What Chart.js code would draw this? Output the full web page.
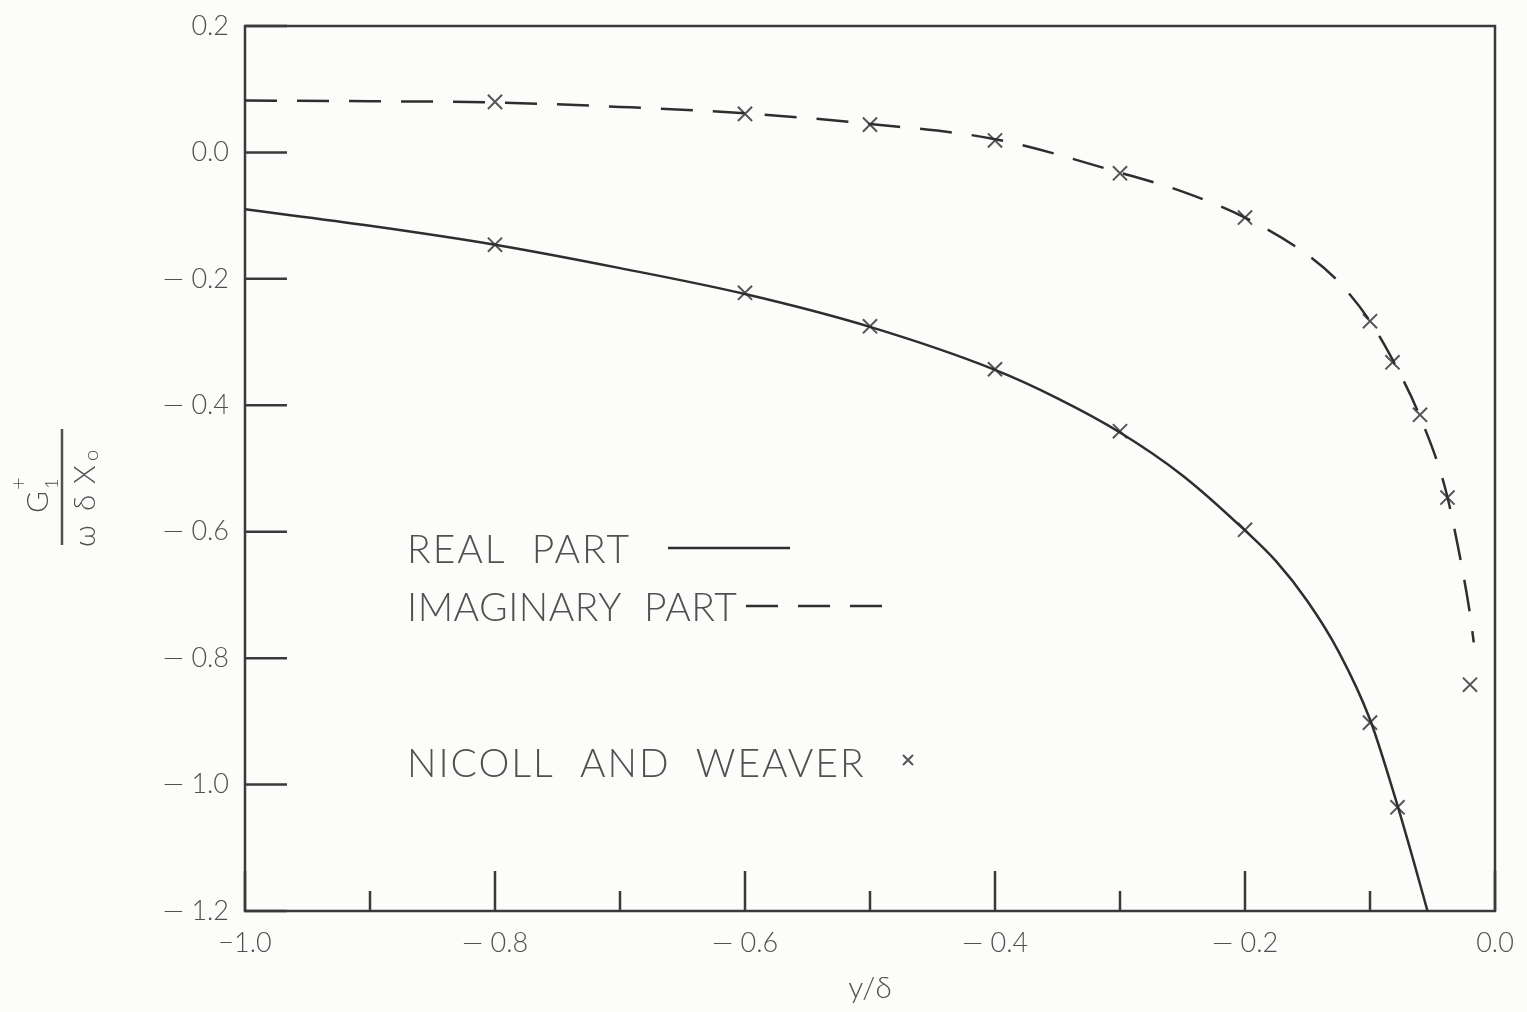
<!DOCTYPE html>
<html>
<head>
<meta charset="utf-8">
<script src="https://cdn.jsdelivr.net/npm/chart.js@4.4.1/dist/chart.umd.min.js"></script>
<style>
    html, body { margin: 0; padding: 0; background: #fcfcfa; }
    #wrap { width: 1527px; height: 1012px; position: relative; }
</style>
</head>
<body>
<div id="wrap"><canvas id="lineChart"></canvas></div>
<script>
// curves (y/delta vs G1+/(w delta X0))
var realX = [-1.0, -0.9, -0.8, -0.7, -0.6, -0.5, -0.4, -0.35, -0.3, -0.25, -0.2, -0.175, -0.15, -0.125, -0.1, -0.08, -0.065, -0.054];
var realY = [-0.090, -0.116, -0.146, -0.183, -0.224, -0.276, -0.344, -0.389, -0.443, -0.511, -0.598, -0.647, -0.710, -0.790, -0.897, -1.020, -1.122, -1.200];

var imagX = [-1.0, -0.9, -0.8, -0.7, -0.6, -0.5, -0.4, -0.3, -0.25, -0.2, -0.15, -0.125, -0.1, -0.08, -0.06, -0.04, -0.03, -0.02, -0.017];
var imagY = [0.082, 0.081, 0.079, 0.072, 0.062, 0.045, 0.021, -0.032, -0.062, -0.103, -0.162, -0.205, -0.267, -0.335, -0.418, -0.530, -0.620, -0.730, -0.775];

// Nicoll and Weaver points
var nwRealX = [-0.8, -0.6, -0.5, -0.4, -0.3, -0.2, -0.1, -0.078];
var nwRealY = [-0.146, -0.222, -0.275, -0.343, -0.441, -0.597, -0.902, -1.036];
var nwImagX = [-0.8, -0.6, -0.5, -0.4, -0.3, -0.2, -0.1, -0.082, -0.06, -0.038, -0.02];
var nwImagY = [0.080, 0.061, 0.044, 0.019, -0.033, -0.103, -0.267, -0.332, -0.415, -0.546, -0.842];

// axis ticks
var yTicks = [0.2, 0.0, -0.2, -0.4, -0.6, -0.8, -1.0, -1.2];
var yTickLabels = ['0.2', '0.0', '\u2014 0.2', '\u2014 0.4', '\u2014 0.6', '\u2014 0.8', '\u2014 1.0', '\u2014 1.2'];
var xTicks = [-1.0, -0.9, -0.8, -0.7, -0.6, -0.5, -0.4, -0.3, -0.2, -0.1, 0.0];
var xTickLabels = ['\u22121.0', '', '\u2014 0.8', '', '\u2014 0.6', '', '\u2014 0.4', '', '\u2014 0.2', '', '0.0'];

var ink = '#2e2e2e';
var textInk = '#505050';
var fontFam = 'Lato, "Liberation Sans", sans-serif';

function zip(xs, ys) {
    return xs.map(function(x, i) { return { x: x, y: ys[i] }; });
}

function tickIndex(list, v) {
    for (var i = 0; i < list.length; i++) {
        if (Math.abs(list[i] - v) < 1e-6) return i;
    }
    return -1;
}

// frame + inward tick marks
const framePlugin = {
    id: 'frame',
    beforeDatasetsDraw(chart) {
        const ctx = chart.ctx;
        const a = chart.chartArea;
        const xs = chart.scales.x, ys = chart.scales.y;
        ctx.save();
        ctx.strokeStyle = '#3a3a3a';
        ctx.lineWidth = 2.5;
        ctx.strokeRect(a.left, a.top, a.right - a.left, a.bottom - a.top);
        xTicks.forEach(function(v, i) {
            var px = xs.getPixelForValue(v);
            var len = xTickLabels[i] ? 40 : 20;
            ctx.beginPath();
            ctx.moveTo(px, a.bottom);
            ctx.lineTo(px, a.bottom - len);
            ctx.stroke();
        });
        yTicks.forEach(function(v) {
            var py = ys.getPixelForValue(v);
            ctx.beginPath();
            ctx.moveTo(a.left, py);
            ctx.lineTo(a.left + 42, py);
            ctx.stroke();
        });
        ctx.restore();
    }
};

// key written inside the plot + y axis fraction title
const notesPlugin = {
    id: 'notes',
    afterDraw(chart) {
        const ctx = chart.ctx;
        ctx.save();
        ctx.fillStyle = textInk;
        ctx.strokeStyle = ink;
        ctx.font = '300 39px ' + fontFam;
        ctx.textBaseline = 'alphabetic';
        ctx.textAlign = 'left';
        ctx.letterSpacing = '2px';
        ctx.fillText('REAL  PART', 407, 563);
        ctx.letterSpacing = '0.5px';
        ctx.fillText('IMAGINARY  PART', 407, 621);
        ctx.letterSpacing = '2px';
        ctx.fillText('NICOLL  AND  WEAVER', 407, 777);
        ctx.letterSpacing = '0px';

        ctx.lineWidth = 2.5;
        ctx.beginPath();
        ctx.moveTo(668, 548);
        ctx.lineTo(790, 548);
        ctx.stroke();
        ctx.setLineDash([32, 20]);
        ctx.beginPath();
        ctx.moveTo(746, 606);
        ctx.lineTo(886, 606);
        ctx.stroke();
        ctx.setLineDash([]);
        ctx.lineWidth = 2;
        ctx.strokeStyle = '#555';
        ctx.beginPath();
        ctx.moveTo(903, 755); ctx.lineTo(913, 765);
        ctx.moveTo(913, 755); ctx.lineTo(903, 765);
        ctx.stroke();

        // G1+ / (w delta X0), rotated
        ctx.translate(62, 487);
        ctx.rotate(-Math.PI / 2);
        ctx.strokeStyle = textInk;
        ctx.lineWidth = 2.5;
        ctx.beginPath();
        ctx.moveTo(-58, 0);
        ctx.lineTo(58, 0);
        ctx.stroke();
        ctx.font = '300 30px ' + fontFam;
        ctx.fillText('G', -26, -14);
        ctx.font = '300 18px ' + fontFam;
        ctx.fillText('1', -2, -4);
        ctx.font = '300 22px ' + fontFam;
        ctx.fillText('+', -3, -36);
        ctx.font = '300 30px ' + fontFam;
        ctx.fillText('\u03c9', -60, 33);
        ctx.fillText('\u03b4', -24, 33);
        ctx.fillText('X', 3, 33);
        ctx.font = '300 20px ' + fontFam;
        ctx.fillText('o', 26, 36);
        ctx.restore();
    }
};

const ctx = document.getElementById('lineChart').getContext('2d');
const myChart = new Chart(ctx, {
    type: 'scatter',
    data: {
        datasets: [{
                label: 'Real part',
                data: zip(realX, realY),
                showLine: true,
                borderColor: ink,
                borderWidth: 2.5,
                pointRadius: 0,
                cubicInterpolationMode: 'monotone'
            },
            {
                label: 'Imaginary part',
                data: zip(imagX, imagY),
                showLine: true,
                borderColor: ink,
                borderWidth: 2.5,
                borderDash: [32, 20],
                pointRadius: 0,
                cubicInterpolationMode: 'monotone'
            },
            {
                label: 'Nicoll and Weaver (real)',
                data: zip(nwRealX, nwRealY),
                showLine: false,
                pointStyle: 'crossRot',
                pointRadius: 10,
                borderColor: '#555',
                borderWidth: 2
            },
            {
                label: 'Nicoll and Weaver (imaginary)',
                data: zip(nwImagX, nwImagY),
                showLine: false,
                pointStyle: 'crossRot',
                pointRadius: 10,
                borderColor: '#555',
                borderWidth: 2
            },
        ]
    },
    options: {
        responsive: true,
        maintainAspectRatio: false,
        animation: false,
        layout: { padding: { top: 26, right: 32, left: 0, bottom: 0 } },
        plugins: {
            legend: { display: false },
            tooltip: { enabled: false }
        },
        scales: {
            x: {
                type: 'linear',
                min: -1.0,
                max: 0.0,
                grid: { display: false, drawTicks: false },
                border: { display: false },
                afterBuildTicks: function(scale) {
                    scale.ticks = xTicks.map(function(v) { return { value: v }; });
                },
                afterFit: function(scale) {
                    scale.height = 101;
                    scale.paddingLeft = 0;
                    scale.paddingRight = 0;
                },
                ticks: {
                    autoSkip: false,
                    maxRotation: 0,
                    padding: 16,
                    color: textInk,
                    font: { family: fontFam, size: 27, weight: '300' },
                    callback: function(v) {
                        var i = tickIndex(xTicks, v);
                        return i < 0 ? '' : xTickLabels[i];
                    }
                },
                title: {
                    display: true,
                    text: 'y/\u03b4',
                    color: textInk,
                    font: { family: fontFam, size: 30, weight: '300' },
                    padding: { top: 0, bottom: 6 }
                }
            },
            y: {
                min: -1.2,
                max: 0.2,
                grid: { display: false, drawTicks: false },
                border: { display: false },
                afterBuildTicks: function(scale) {
                    scale.ticks = yTicks.slice().reverse().map(function(v) { return { value: v }; });
                },
                afterFit: function(scale) {
                    scale.width = 245;
                    scale.paddingTop = 0;
                    scale.paddingBottom = 0;
                },
                ticks: {
                    autoSkip: false,
                    padding: 16,
                    color: textInk,
                    font: { family: fontFam, size: 27, weight: '300' },
                    callback: function(v) {
                        var i = tickIndex(yTicks, v);
                        return i < 0 ? '' : yTickLabels[i];
                    }
                }
            }
        }
    },
    plugins: [framePlugin, notesPlugin]
});
</script>
</body>
</html>
